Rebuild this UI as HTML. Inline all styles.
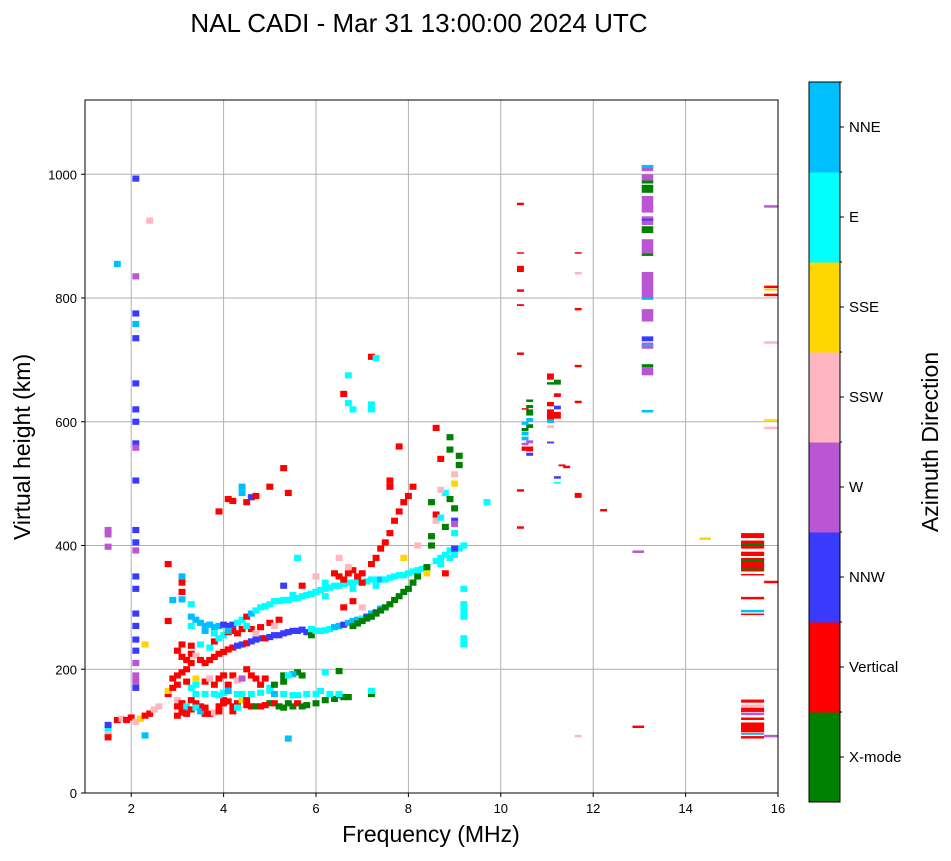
<!DOCTYPE html>
<html><head><meta charset="utf-8">
<style>
body{margin:0;background:#fff;width:951px;height:856px;overflow:hidden;font-family:"Liberation Sans",sans-serif}
</style></head>
<body>
<svg id="chart" width="951" height="856" xmlns="http://www.w3.org/2000/svg" font-family="Liberation Sans, sans-serif">
<text x="419" y="32" font-size="26" text-anchor="middle">NAL CADI - Mar 31 13:00:00 2024 UTC</text>
<g id="grid"></g>
<g id="marks"></g>
<rect x="85" y="100" width="693" height="693" fill="none" stroke="#000" stroke-width="1"/>
<g id="axes"></g>
<text x="431" y="842" font-size="23" text-anchor="middle">Frequency (MHz)</text>
<text transform="translate(30,447) rotate(-90)" font-size="23" text-anchor="middle">Virtual height (km)</text>
<g id="cbar"></g>
<text transform="translate(938,442) rotate(-90)" font-size="23" text-anchor="middle">Azimuth Direction</text>
</svg>
<script>
const colorNames=["X-mode","Vertical","NNW","W","SSW","SSE","E","NNE"];
const colorValues=["#008000","#ff0000","#3a3aff","#ba55d3","#ffb6c1","#ffd700","#00ffff","#00bfff"];
const xTicks=[2,4,6,8,10,12,14,16];
const yTicks=[0,200,400,600,800,1000];
// points: [freq MHz, height km, color index]
const points=[
[1.5,95,6],[1.5,100,4],[1.5,105,6],[1.5,110,2],[1.5,90,1],[1.5,425,3],[1.5,418,3],[1.5,398,3],[1.7,855,7],[1.7,118,1],[1.8,120,4],[1.9,118,1],[2.0,122,1],[2.1,115,4],[2.2,120,5],[2.3,125,1],[2.4,130,4],[2.4,128,1],[2.5,135,4],[2.6,140,4],[2.3,93,7],[2.4,925,4],[2.3,240,5],
[2.1,993,2],[2.1,835,3],[2.1,775,2],[2.1,758,7],[2.1,735,2],[2.1,662,2],[2.1,620,2],[2.1,600,2],[2.1,565,2],[2.1,558,3],[2.1,505,2],[2.1,425,2],[2.1,405,2],[2.1,392,3],[2.1,350,2],[2.1,330,2],[2.1,290,2],[2.1,270,2],[2.1,248,2],[2.1,230,2],[2.1,210,3],[2.1,190,3],[2.1,180,3],[2.1,170,2],
[2.8,160,1],[2.8,165,5],[2.9,170,1],[3.0,175,1],[3.0,150,4],[3.0,140,1],[3.1,135,1],[3.1,145,1],[3.2,130,3],[3.2,140,6],[3.3,135,1],[3.3,150,1],[3.4,145,1],[3.4,160,6],[3.5,140,1],[3.6,128,1],[3.7,128,1],[3.8,130,4],[3.9,140,1],[4.0,150,1],[4.0,145,1],[4.1,148,1],[4.2,140,1],[4.3,145,1],[4.4,150,5],[4.5,142,1],[4.6,140,1],[4.7,140,0],[4.8,140,1],[5.0,145,0],[5.1,145,1],[5.2,140,0],[5.4,145,0],[5.5,140,0],[5.6,145,1],[5.8,142,0],[6.0,145,0],[6.2,150,0],[6.5,158,0],[6.6,155,0],[5.4,88,7],
[3.0,125,1],[3.1,130,1],[3.2,128,1],[3.4,138,6],[3.5,132,7],[3.6,138,1],[3.9,132,1],[4.2,132,1],[4.3,138,6],[4.5,150,1],[4.9,142,1],[5.3,138,0],[5.7,140,0],[6.4,152,0],[6.7,155,0],
[3.3,170,6],[3.4,175,6],[3.6,160,6],[3.8,160,6],[3.9,158,6],[4.0,162,6],[4.1,165,7],[4.3,160,6],[4.4,160,6],[4.6,160,6],[4.8,162,6],[5.0,165,6],[5.1,160,7],[5.3,160,6],[5.5,158,6],[5.6,158,6],[5.8,160,6],[6.0,160,6],[6.1,165,6],[6.3,160,6],[6.5,160,6],[7.2,160,0],[7.2,165,6],[5.6,195,0],[5.7,190,0],[5.3,190,0],[5.5,192,7],[6.2,195,6],[6.5,197,0],
[2.9,185,1],[3.0,190,1],[3.1,195,1],[3.2,200,1],[3.3,210,1],[3.2,180,1],[3.4,185,5],[3.6,180,1],[3.7,185,4],[3.8,175,1],[3.9,185,1],[4.0,190,1],[4.1,175,1],[4.2,190,1],[4.3,182,4],[4.4,185,3],[4.5,200,1],[4.6,190,1],[4.7,185,1],[4.8,175,1],[4.9,185,1],[5.0,170,6],[5.1,175,0],[5.3,180,0],[5.4,190,6],
[3.0,230,1],[3.1,220,1],[3.2,215,1],[3.3,225,1],[3.4,222,4],[3.5,215,1],[3.6,210,1],[3.7,215,1],[3.8,220,1],[3.9,225,1],[4.0,228,1],[4.1,232,1],[4.2,235,1],[4.3,238,2],[4.4,240,2],[4.5,242,1],[4.6,245,2],[4.7,248,2],[4.8,250,2],[4.9,250,1],[5.0,252,2],[5.1,255,2],[5.2,255,2],[5.3,258,2],[5.4,260,2],[5.5,262,2],[5.6,262,2],[5.7,264,2],[5.8,260,2],[5.9,255,0],[6.0,262,6],
[3.1,240,1],[3.3,238,1],[3.5,240,6],[3.7,235,6],[3.8,245,1],[3.9,250,6],[4.0,255,6],[4.1,260,1],[4.2,262,1],[4.3,258,1],[4.4,265,1],[4.6,265,1],[4.8,268,1],[5.0,275,1],[5.1,270,4],[5.2,280,1],[4.7,258,4],
[3.3,285,7],[3.4,280,7],[3.5,275,7],[3.6,270,7],[3.7,272,7],[3.8,268,7],[3.9,270,7],[4.0,272,2],[4.1,270,2],[4.2,272,2],[4.3,275,6],[4.4,280,6],[4.5,285,1],[4.6,290,7],[4.7,295,6],[4.8,300,6],[4.9,302,6],[5.0,305,6],[5.1,310,6],[5.2,310,6],[5.3,312,6],[5.4,312,6],[5.5,315,6],[5.6,315,6],[5.7,318,6],[5.8,320,6],[5.9,322,6],[6.0,325,6],[6.1,328,6],[6.2,330,6],[6.3,332,6],[6.4,335,6],[6.5,335,6],[6.6,338,6],[6.7,340,6],[6.8,340,6],[6.9,342,6],[7.0,340,6],[7.1,342,6],[7.2,345,6],[7.3,345,6],[7.4,345,7],[7.5,345,6],[7.6,348,6],[7.7,350,6],[7.8,352,6],[7.9,352,6],[8.0,355,6],[8.1,358,6],[8.2,360,6],[8.3,362,6],[8.4,365,6],[8.6,375,6],[8.7,380,6],[8.8,385,6],[8.9,392,6],[9.0,395,6],[9.1,395,6],[9.2,330,6],[9.2,305,6],[9.2,295,6],[9.2,285,6],[9.2,250,6],[9.2,240,6],[9.2,400,6],
[3.6,262,7],[3.8,258,6],[4.1,262,7],[4.5,270,6],[5.5,320,6],[6.2,318,6],[6.8,330,6],[7.3,335,6],[8.7,370,6],[8.9,380,6],[9.0,385,6],[8.4,355,5],
[5.9,265,6],[6.0,262,6],[6.1,262,6],[6.2,263,6],[6.3,265,6],[6.4,268,7],[6.5,270,7],[6.6,272,2],[6.7,275,7],[6.8,278,7],[6.9,280,7],[7.0,282,6],[7.1,285,2],[7.2,290,7],[7.3,292,2],[7.4,298,7],
[6.8,270,0],[6.9,274,0],[7.0,278,0],[7.1,282,0],[7.2,285,0],[7.3,290,0],[7.4,295,0],[7.5,300,0],[7.6,305,0],[7.7,312,0],[7.8,318,0],[7.9,325,0],[8.0,330,0],[8.1,340,0],[8.2,350,0],[8.4,365,0],[8.5,400,0],[8.5,415,0],[8.5,470,0],[8.8,430,0],[9.0,460,0],[8.9,475,0],[8.9,555,0],[8.9,575,0],[9.1,530,0],[9.1,545,0],
[6.4,355,1],[6.5,350,1],[6.6,345,1],[6.7,355,1],[6.8,360,1],[6.9,350,1],[7.0,355,1],[7.0,340,1],[7.2,370,1],[7.3,380,1],[7.4,395,1],[7.5,405,1],[7.6,420,1],[7.7,440,1],[7.8,455,1],[7.9,470,1],[8.0,480,1],[8.6,590,1],[8.7,540,1],[8.2,400,4],[7.9,380,5],[6.5,380,4],[6.7,365,4],[6.6,300,1],[6.8,310,1],[7.0,300,4],[6.6,645,1],[6.7,675,6],[6.7,630,6],[6.8,620,6],[7.2,705,1],[7.3,703,6],[7.2,628,6],[7.2,620,6],[7.8,560,1],[7.6,505,1],[7.6,495,1],[8.1,495,1],[8.6,450,1],[8.6,440,4],[8.7,445,6],[8.8,485,6],[8.7,490,4],[9.0,395,2],[9.0,440,2],[9.0,435,3],[9.0,420,6],[9.0,500,5],[9.0,515,4],[9.7,470,6],[8.8,355,1],
[4.1,475,1],[4.2,472,1],[4.4,495,7],[4.4,485,7],[4.5,470,1],[4.6,478,2],[4.7,480,1],[3.9,455,1],[5.0,495,1],[5.4,485,1],[5.3,525,1],[5.6,380,6],[5.7,335,1],[3.1,350,7],[3.1,340,1],[3.1,325,1],[3.1,313,7],[2.9,312,7],[3.3,305,6],[2.8,370,1],[3.3,270,6],[2.8,278,1],[5.3,335,2],[6.0,350,4],[6.2,340,6]
];
// blocks: [freq start, freq end, height low, height high, color index]
const blocks=[
[13.05,13.3,1005,1015,3],[13.05,13.3,1010,1015,7],[13.05,13.3,990,1000,3],[13.05,13.3,985,990,0],[13.05,13.3,970,983,0],[13.05,13.3,938,965,3],[13.05,13.3,918,932,3],[13.05,13.3,925,928,2],[13.05,13.3,905,916,0],[13.05,13.3,872,880,3],[13.05,13.3,878,895,3],[13.05,13.3,868,872,0],[13.05,13.3,800,842,3],[13.05,13.3,797,800,7],[13.05,13.3,762,782,3],[13.05,13.3,730,738,2],[13.05,13.3,718,728,3],[13.05,13.3,722,725,7],[13.05,13.3,688,693,0],[13.05,13.3,675,688,3],[13.05,13.3,615,619,7],
[15.2,15.7,412,420,1],[15.2,15.7,395,408,1],[15.2,15.7,400,403,0],[15.2,15.7,383,390,1],[15.2,15.7,358,380,1],[15.2,15.7,374,378,0],[15.2,15.7,360,363,0],[15.2,15.7,352,354,1],[15.2,15.7,313,317,1],[15.2,15.7,292,296,7],[15.2,15.7,288,290,1],
[15.2,15.7,146,151,1],[15.2,15.7,139,143,4],[15.2,15.7,131,138,1],[15.2,15.7,126,130,3],[15.2,15.7,118,122,1],[15.2,15.7,98,114,1],[15.2,15.7,94,97,7],[15.2,15.7,88,92,1],
[15.7,16,946,950,3],[15.7,16,816,820,1],[15.7,16,812,815,5],[15.7,16,803,807,1],[15.7,16,726,730,4],[15.7,16,600,604,5],[15.7,16,588,592,4],[15.7,16,339,343,1],[15.7,16,90,94,3],
[12.85,13.1,388,392,3],[12.85,13.1,105,109,1],[14.3,14.55,409,413,5],[12.15,12.3,455,459,1],
[10.35,10.5,950,954,1],[10.35,10.5,872,874,1],[10.35,10.5,842,852,1],[10.35,10.5,810,814,1],[10.35,10.5,787,790,1],[10.35,10.5,708,712,1],[10.35,10.5,487,491,1],[10.35,10.5,427,431,1],
[11.6,11.75,872,874,1],[11.6,11.75,838,842,4],[11.6,11.75,780,784,1],[11.6,11.75,688,692,1],[11.6,11.75,630,634,1],[11.6,11.75,477,485,1],[11.35,11.5,525,529,1],[11.6,11.75,90,94,4],
[10.45,10.6,620,622,1],[10.55,10.7,632,636,0],[10.55,10.7,622,627,0],[10.55,10.7,610,620,0],[10.55,10.7,600,606,7],[10.55,10.7,590,596,0],[10.45,10.6,595,600,7],[10.45,10.6,585,590,0],[10.45,10.6,578,584,7],[10.45,10.6,570,576,7],[10.45,10.6,562,566,3],[10.45,10.6,553,560,1],[10.55,10.7,565,570,3],[10.55,10.7,552,560,1],[10.55,10.7,545,550,2],
[11.0,11.15,668,678,1],[11.0,11.15,660,664,0],[11.15,11.3,660,668,0],[11.15,11.3,640,646,1],[11.0,11.15,625,632,1],[11.0,11.15,600,620,1],[11.15,11.3,620,626,2],[11.15,11.3,605,616,1],[11.0,11.15,598,604,7],[11.0,11.15,590,594,4],[11.0,11.15,565,568,2],[11.15,11.3,508,512,2],[11.15,11.3,500,503,6],[11.25,11.4,528,531,1]
];
const x0=1,x1=16,h0=0,h1=1120;
function xs(f){return 85+(f-x0)/(x1-x0)*693;}
function ys(h){return 793-(h-h0)/(h1-h0)*693;}
const NS="http://www.w3.org/2000/svg";
function mk(tag,attrs,parent){const e=document.createElementNS(NS,tag);for(const k in attrs)e.setAttribute(k,attrs[k]);parent.appendChild(e);return e;}
const grid=document.getElementById('grid'),axes=document.getElementById('axes'),marks=document.getElementById('marks'),cbar=document.getElementById('cbar');
xTicks.forEach(t=>{const x=xs(t);
 const g=mk('line',{x1:x,x2:x,y1:100,y2:793,stroke:'#b0b0b0','stroke-width':1},grid);
 
 
 mk('line',{x1:x,x2:x,y1:793,y2:797,stroke:'#000'},axes);
 const tx=mk('text',{x:x,y:813,'font-size':13,'text-anchor':'middle'},axes);tx.textContent=t;
 
 });
yTicks.forEach(t=>{const y=ys(t);
 const g=mk('line',{x1:85,x2:778,y1:y,y2:y,stroke:'#b0b0b0','stroke-width':1},grid);
 
 
 mk('line',{x1:81,x2:85,y1:y,y2:y,stroke:'#000'},axes);
 const tx=mk('text',{x:77,y:y+5,'font-size':13,'text-anchor':'end'},axes);tx.textContent=t;
 
 });
points.forEach(p=>{
 const r=mk('rect',{x:xs(p[0]-0.075),y:ys(p[1]+5),width:xs(p[0]+0.075)-xs(p[0]-0.075),height:ys(p[1]-5)-ys(p[1]+5),fill:colorValues[p[2]]},marks);
 
 });
blocks.forEach(b=>{
 const r=mk('rect',{x:xs(b[0]),y:ys(b[3]),width:xs(b[1])-xs(b[0]),height:Math.max(1.5,ys(b[2])-ys(b[3])),fill:colorValues[b[4]]},marks);
 
 });
const cTop=82,cBot=802,seg=(cBot-cTop)/colorNames.length;
colorNames.forEach((n,i)=>{const y=cBot-(i+1)*seg;
 const r=mk('rect',{x:809,y:y,width:31,height:seg+0.5,fill:colorValues[i]},cbar);
 
 
 mk('line',{x1:840,x2:844,y1:y+seg/2,y2:y+seg/2,stroke:'#000'},cbar);
 mk('line',{x1:840,x2:842,y1:y,y2:y,stroke:'#000'},cbar);
 const tx=mk('text',{x:849,y:y+seg/2+5,'font-size':15},cbar);tx.textContent=n;
 
 });
const fr=mk('rect',{x:809,y:cTop,width:31,height:cBot-cTop,fill:'none',stroke:'#000'},cbar);


</script>
</body></html>
